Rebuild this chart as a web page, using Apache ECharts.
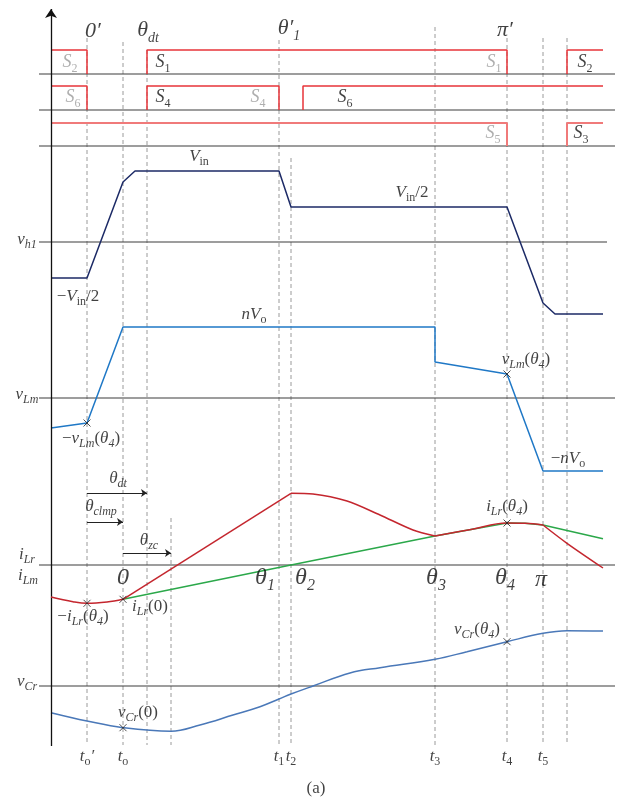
<!DOCTYPE html>
<html>
<head>
<meta charset="utf-8">
<script src="https://cdn.jsdelivr.net/npm/echarts@6/dist/echarts.min.js"></script>
<style>
  html, body { margin: 0; padding: 0; background: #fff; }
  #main { width: 624px; height: 808px; }
</style>
</head>
<body>
<div id="main"></div>
<script>
// horizontal positions are measured from the vertical axis, vertical values from each trace's zero line
var tMarks = [36, 72, 96, 120, 228, 240, 384, 456, 492, 516];
var tLabels = ["{t|t}{tr|o}{t|′}", "{t|t}{tr|o}", "", "", "{t|t}{tr|1}", "{t|t}{tr|2}", "{t|t}{tr|3}", "{t|t}{tr|4}", "{t|t}{tr|5}", ""];
var dashTop = [38, 42, 50, 518, 40, 158, 27, 38, 38, 38];

// gate signals, 1 = on
var gate1 = [[[0, 1], [36, 1], [36, 0]], [[96, 0], [96, 1], [456, 1], [456, 0]], [[516, 0], [516, 1], [552, 1]]];
var gate2 = [[[0, 1], [36, 1], [36, 0]], [[96, 0], [96, 1], [228, 1], [228, 0]], [[252, 0], [252, 1], [552, 1]]];
var gate3 = [[[0, 1], [456, 1], [456, 0]], [[516, 0], [516, 1], [552, 1]]];

// v_h1
var vh1T = [0, 36, 72, 84, 228, 240, 456, 492, 504, 552];
var vh1V = [-36, -36, 60, 71, 71, 35, 35, -61, -72, -72];
// v_Lm
var vLmT = [0, 36, 72, 384, 384, 456, 492, 552];
var vLmV = [-30, -25, 71, 71, 36, 24, -73, -73];
// i_Lr pieces
var iLrPreT = [0, 22, 36, 56, 72];
var iLrPreV = [-32, -36.7, -38.3, -37, -34.3];
var iLrRiseT = [72, 240];
var iLrRiseV = [-34.3, 71.7];
var iLrFallT = [240, 262, 296, 329, 362, 384];
var iLrFallV = [71.7, 71, 64, 50, 35, 29];
var iLrClampT = [384, 420, 456, 474, 492];
var iLrClampV = [29, 35.5, 42, 41.7, 40];
var iLrEndT = [492, 516, 552];
var iLrEndV = [40, 21.7, -3];
// i_Lm
var iLmT = [72, 240, 384, 420, 456, 474, 492, 552];
var iLmV = [-34.3, 0, 29, 35.5, 42, 41.7, 40, 26.3];
// v_Cr
var vCrT = [0, 36, 72, 120, 149, 182, 209, 228, 240, 262, 299, 329, 384, 416, 456, 492, 516, 552];
var vCrV = [-26.7, -35, -41.7, -45.3, -39, -29, -20.7, -13, -8, 0, 13, 18.3, 26.7, 34.3, 44.3, 52.7, 55.3, 55];

// layout
var rowBase = [74, 110, 146];
var rowHigh = [24, 24, 23];
var vh1Base = 242, vLmBase = 398, iBase = 565, vCrBase = 686;
var ff = '"Liberation Serif", "Times New Roman", serif';

var labels = [
  [42, 31, "{L|0′}"], [97, 32, "{L|θ}{Ls|dt}"], [238, 30, "{L|θ′}{Ls|1}"], [454, 30, "{L|π′}"],
  [19, 64, "{Sg|S}{Sgs|2}"], [112, 64, "{S|S}{Ss|1}"], [443, 64, "{Sg|S}{Sgs|1}"], [534, 64, "{S|S}{Ss|2}"],
  [22, 99, "{Sg|S}{Sgs|6}"], [112, 99, "{S|S}{Ss|4}"], [207, 99, "{Sg|S}{Sgs|4}"], [294, 99, "{S|S}{Ss|6}"],
  [442, 135, "{Sg|S}{Sgs|5}"], [530, 135, "{S|S}{Ss|3}"],
  [148, 158, "{v|V}{vr|in}"], [361, 194, "{v|V}{vr|in}{n|/2}"], [27, 298, "{n|−}{v|V}{vr|in}{n|/2}"],
  [203, 316, "{v|nV}{vr|o}"], [475, 361, "{v|v}{vs|Lm}{n|(}{v|θ}{vs|4}{n|)}"],
  [40, 440, "{n|−}{v|v}{vs|Lm}{n|(}{v|θ}{vs|4}{n|)}"], [517, 460, "{n|−}{v|nV}{vr|o}"],
  [67, 480, "{v|θ}{vs|dt}"], [50, 508, "{v|θ}{vs|clmp}"], [98, 542, "{v|θ}{vs|zc}"],
  [-24, 241, "{v|v}{vs|h1}"], [-24, 396, "{v|v}{vs|Lm}"], [-24, 556, "{v|i}{vs|Lr}"], [-23, 577, "{v|i}{vs|Lm}"],
  [-24, 683, "{v|v}{vs|Cr}"],
  [72, 578, "{B|0}"], [214, 580, "{B|θ}{Bs|1}"], [254, 580, "{B|θ}{Bs|2}"], [385, 580, "{B|θ}{Bs|3}"],
  [454, 580, "{B|θ}{Bs|4}"], [490, 580, "{B|π}"],
  [456, 508, "{v|i}{vs|Lr}{n|(}{v|θ}{vs|4}{n|)}"], [32, 618, "{n|−}{v|i}{vs|Lr}{n|(}{v|θ}{vs|4}{n|)}"],
  [99, 608, "{v|i}{vs|Lr}{n|(0)}"], [87, 714, "{v|v}{vs|Cr}{n|(0)}"], [426, 631, "{v|v}{vs|Cr}{n|(}{v|θ}{vs|4}{n|)}"],
  [265, 789, "{a|(a)}"]
];

function tok(size, lh, va, italic, color) {
  return { fontFamily: ff, fontSize: size, lineHeight: lh, verticalAlign: va,
           fontStyle: italic ? 'italic' : 'normal', color: color || '#111' };
}
var rich = {
  L: tok(22, 22, 'top', true), Ls: tok(14, 26, 'bottom', true),
  B: tok(24, 24, 'top', true), Bs: tok(16, 28, 'bottom', true),
  S: tok(18, 18, 'top', true), Ss: tok(12, 21, 'bottom', false),
  Sg: tok(18, 18, 'top', true, '#9a9a9a'), Sgs: tok(12, 21, 'bottom', false, '#9a9a9a'),
  v: tok(17, 17, 'top', true), vs: tok(12, 20, 'bottom', true), vr: tok(12, 20, 'bottom', false),
  n: tok(17, 17, 'top', false),
  t: tok(17, 17, 'top', true), tr: tok(12, 20, 'bottom', false),
  a: tok(17, 17, 'top', false)
};

function pts(T, V, base) {
  return T.map(function (t, i) { return [t, base - V[i]]; });
}
function valAt(T, V, t) { return V[T.indexOf(t)]; }
function line(data, color, width, smooth, z, dash) {
  return { type: 'line', data: data, symbol: 'none', smooth: smooth || false, silent: true, z: z || 3,
           lineStyle: { color: color, width: width, type: dash || 'solid' } };
}

var series = [];
// reference lines
rowBase.forEach(function (b) { series.push(line([[-12, b], [564, b]], '#3c3c3c', 1.2, false, 2)); });
series.push(line([[-12, vh1Base], [556, vh1Base]], '#3c3c3c', 1.2, false, 2));
[vLmBase, iBase, vCrBase].forEach(function (b) { series.push(line([[-12, b], [564, b]], '#3c3c3c', 1.2, false, 2)); });
// dashed time marks
tMarks.forEach(function (t, i) { series.push(line([[t, dashTop[i]], [t, 745]], '#9a9a9a', 1, false, 1, [4, 3])); });
// vertical axis
series.push({ type: 'lines', coordinateSystem: 'cartesian2d', silent: true, z: 4, symbol: ['none', 'arrow'], symbolSize: 9,
  lineStyle: { color: '#111', width: 1.3, opacity: 1 }, data: [{ coords: [[0, 746], [0, 9]] }] });
// gate signals
[gate1, gate2, gate3].forEach(function (g, r) {
  g.forEach(function (seg) {
    series.push(line(seg.map(function (p) { return [p[0], rowBase[r] - p[1] * rowHigh[r]]; }),
      r === 2 ? '#f07a7a' : '#e8343a', r === 2 ? 2 : 1.5, false, 3));
  });
});
// waveforms
series.push(line(pts(vh1T, vh1V, vh1Base), '#1c2a66', 1.5));
series.push(line(pts(vLmT, vLmV, vLmBase), '#1f78c6', 1.5));
series.push(line(pts(iLmT, iLmV, iBase), '#2ba84a', 1.5, false, 3));
series.push(line(pts(iLrPreT, iLrPreV, iBase), '#c4262e', 1.5, 0.4, 4));
series.push(line(pts(iLrRiseT, iLrRiseV, iBase), '#c4262e', 1.5, false, 4));
series.push(line(pts(iLrFallT, iLrFallV, iBase), '#c4262e', 1.5, 0.3, 4));
series.push(line(pts(iLrClampT, iLrClampV, iBase), '#c4262e', 1.5, 0.4, 4));
series.push(line(pts(iLrEndT, iLrEndV, iBase), '#c4262e', 1.5, 0.3, 4));
series.push(line(pts(vCrT, vCrV, vCrBase), '#4a78b8', 1.5, 0.4));
// small arrows for angles
series.push({ type: 'lines', coordinateSystem: 'cartesian2d', silent: true, z: 4, symbol: ['none', 'arrow'], symbolSize: 6,
  lineStyle: { color: '#222', width: 1, opacity: 1 },
  data: [{ coords: [[tMarks[0], 493], [tMarks[2], 493]] }, { coords: [[tMarks[0], 522], [tMarks[1], 522]] },
         { coords: [[tMarks[1], 553], [tMarks[3], 553]] }] });
// cross markers
var crosses = [
  [36, iBase - valAt(iLrPreT, iLrPreV, 36)], [72, iBase - valAt(iLrPreT, iLrPreV, 72)],
  [456, iBase - valAt(iLrClampT, iLrClampV, 456)],
  [36, vLmBase - valAt(vLmT, vLmV, 36)], [456, vLmBase - valAt(vLmT, vLmV, 456)],
  [72, vCrBase - valAt(vCrT, vCrV, 72)], [456, vCrBase - valAt(vCrT, vCrV, 456)]
];
series.push({ type: 'scatter', data: crosses, symbol: 'path://M0,0L10,10M10,0L0,10', symbolSize: 7, silent: true, z: 6,
  itemStyle: { color: 'none', borderColor: '#222', borderWidth: 1 } });
// text
var textData = labels.map(function (l) { return { value: [l[0], l[1]], label: { formatter: l[2] } }; });
tMarks.forEach(function (t, i) { if (tLabels[i]) textData.push({ value: [t, 758], label: { formatter: tLabels[i] } }); });
series.push({ type: 'scatter', data: textData, symbolSize: 0, silent: true, clip: false, z: 7,
  label: { show: true, position: 'inside', align: 'center', verticalAlign: 'middle', rich: rich } });

var chart = echarts.init(document.getElementById('main'), null, { renderer: 'canvas' });
chart.setOption({
  animation: false,
  backgroundColor: '#fff',
  grid: { left: 0, top: 0, width: 624, height: 808 },
  xAxis: { type: 'value', min: -51, max: 573, show: false },
  yAxis: { type: 'value', min: 0, max: 808, inverse: true, show: false },
  series: series
});
</script>
</body>
</html>
